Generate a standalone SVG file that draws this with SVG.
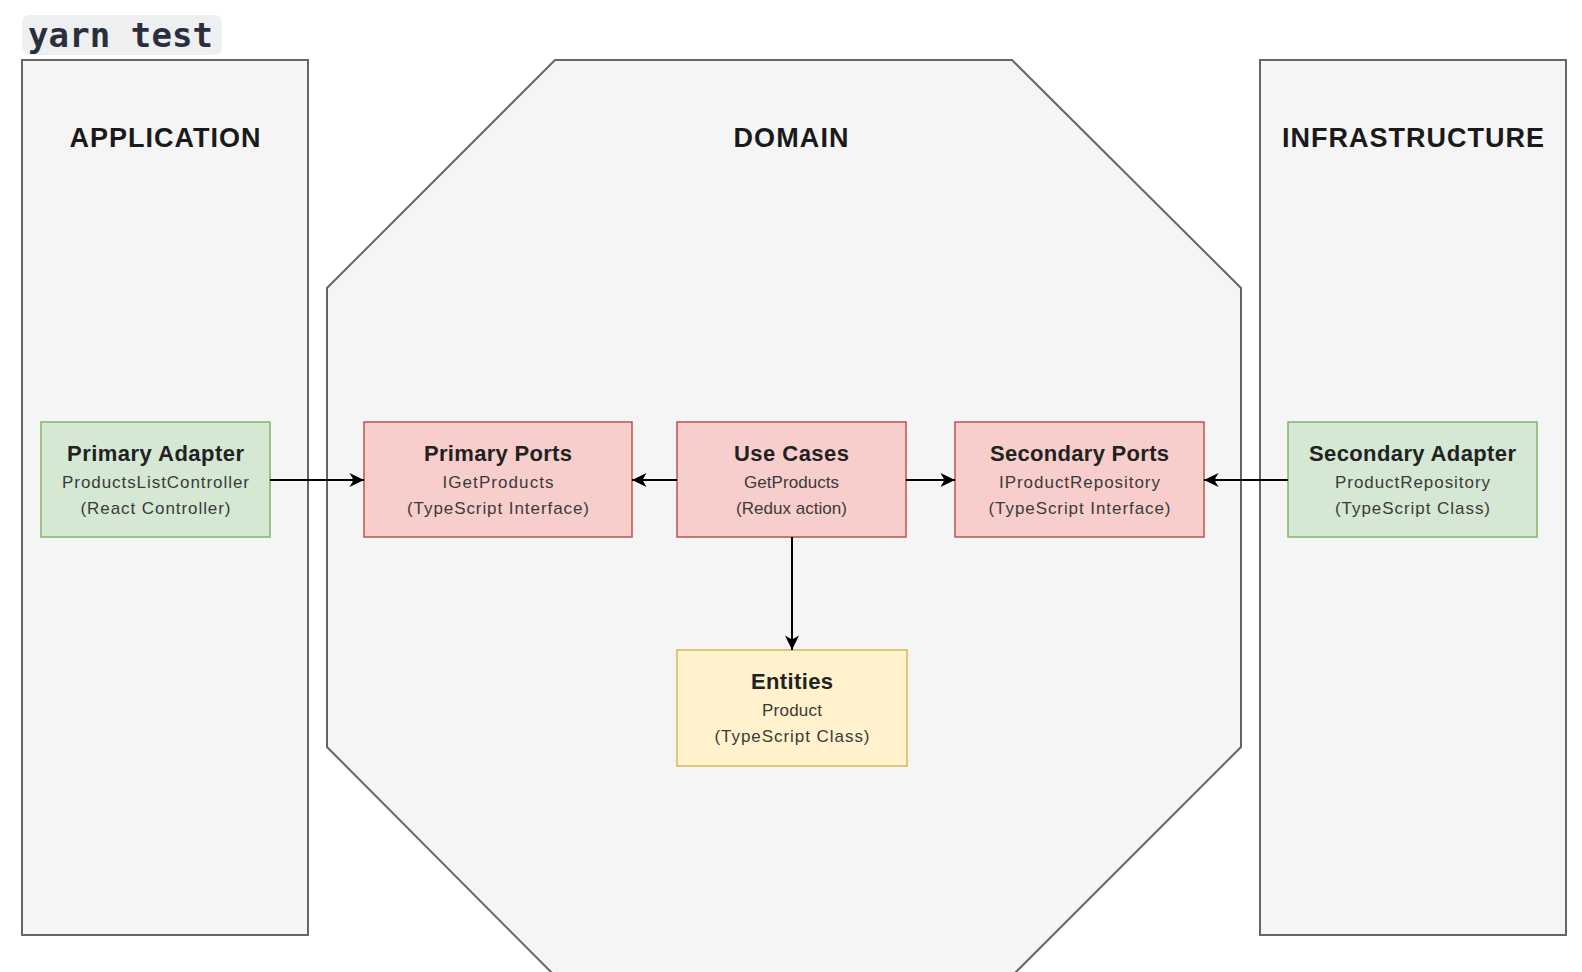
<svg xmlns="http://www.w3.org/2000/svg" width="1582" height="972" viewBox="0 0 1582 972">
  <style>
    .container { fill: #f5f5f5; stroke: #666666; stroke-width: 2; }
    .hdr { font-family: "Liberation Sans", Arial, sans-serif; font-weight: bold; font-size: 27px; fill: #1a1a1a; text-anchor: middle; }
    .ttl { font-family: "Liberation Sans", Arial, sans-serif; font-weight: bold; font-size: 22px; fill: #222222; text-anchor: middle; }
    .sub { font-family: "Liberation Sans", Arial, sans-serif; font-size: 17px; fill: #3a3a3a; text-anchor: middle; }
    .green { fill: #d5e8d4; stroke: #82b366; stroke-width: 1.5; }
    .red { fill: #f8cecc; stroke: #b85450; stroke-width: 1.5; }
    .yellow { fill: #fff2cc; stroke: #d6b656; stroke-width: 1.5; }
    .edge { stroke: #000000; stroke-width: 2; fill: none; marker-end: url(#arrow); }
  </style>
  <defs>
    <marker id="arrow" markerUnits="userSpaceOnUse" markerWidth="16" markerHeight="16" viewBox="0 0 16 16" refX="15" refY="8" orient="auto">
      <path d="M0.5,1 L15,8 L0.5,15 L4.5,8 Z" fill="#000000"/>
    </marker>
  </defs>
  <rect width="1582" height="972" fill="#ffffff"/>

  <g id="yarn-test">
    <rect x="22" y="15" width="200" height="40" rx="8" fill="#eeeff1"/>
    <text x="28" y="47" font-family="DejaVu Sans Mono, monospace" font-weight="bold" font-size="34" fill="#2b2f3d" textLength="185" lengthAdjust="spacing">yarn test</text>
  </g>

  <g id="application">
    <rect class="container" x="22" y="60" width="286" height="875"/>
    <text class="hdr" x="165" y="147" textLength="191" lengthAdjust="spacing">APPLICATION</text>
  </g>

  <g id="domain">
    <polygon class="container" points="555,60 1012,60 1241,288 1241,747 1012,976 555,976 327,747 327,288"/>
    <text class="hdr" x="791" y="147" textLength="115" lengthAdjust="spacing">DOMAIN</text>
  </g>

  <g id="infrastructure">
    <rect class="container" x="1260" y="60" width="306" height="875"/>
    <text class="hdr" x="1413" y="147" textLength="262" lengthAdjust="spacing">INFRASTRUCTURE</text>
  </g>

  <g id="primary-adapter">
    <rect class="green" x="41" y="422" width="229" height="115"/>
    <text class="ttl" x="155.5" y="461" textLength="177" lengthAdjust="spacing">Primary Adapter</text>
    <text class="sub" x="155.5" y="488" textLength="187" lengthAdjust="spacing">ProductsListController</text>
    <text class="sub" x="155.5" y="514" textLength="150" lengthAdjust="spacing">(React Controller)</text>
  </g>

  <g id="primary-ports">
    <rect class="red" x="364" y="422" width="268" height="115"/>
    <text class="ttl" x="498" y="461" textLength="148" lengthAdjust="spacing">Primary Ports</text>
    <text class="sub" x="498" y="488" textLength="111" lengthAdjust="spacing">IGetProducts</text>
    <text class="sub" x="498" y="514" textLength="182" lengthAdjust="spacing">(TypeScript Interface)</text>
  </g>

  <g id="use-cases">
    <rect class="red" x="677" y="422" width="229" height="115"/>
    <text class="ttl" x="791.5" y="461" textLength="115" lengthAdjust="spacing">Use Cases</text>
    <text class="sub" x="791.5" y="488" textLength="95" lengthAdjust="spacing">GetProducts</text>
    <text class="sub" x="791.5" y="514" textLength="111" lengthAdjust="spacing">(Redux action)</text>
  </g>

  <g id="secondary-ports">
    <rect class="red" x="955" y="422" width="249" height="115"/>
    <text class="ttl" x="1079.5" y="461" textLength="179" lengthAdjust="spacing">Secondary Ports</text>
    <text class="sub" x="1079.5" y="488" textLength="161" lengthAdjust="spacing">IProductRepository</text>
    <text class="sub" x="1079.5" y="514" textLength="182" lengthAdjust="spacing">(TypeScript Interface)</text>
  </g>

  <g id="secondary-adapter">
    <rect class="green" x="1288" y="422" width="249" height="115"/>
    <text class="ttl" x="1412.5" y="461" textLength="207" lengthAdjust="spacing">Secondary Adapter</text>
    <text class="sub" x="1412.5" y="488" textLength="155" lengthAdjust="spacing">ProductRepository</text>
    <text class="sub" x="1412.5" y="514" textLength="155" lengthAdjust="spacing">(TypeScript Class)</text>
  </g>

  <g id="entities">
    <rect class="yellow" x="677" y="650" width="230" height="116"/>
    <text class="ttl" x="792" y="689" textLength="82" lengthAdjust="spacing">Entities</text>
    <text class="sub" x="792" y="716" textLength="60" lengthAdjust="spacing">Product</text>
    <text class="sub" x="792" y="742" textLength="155" lengthAdjust="spacing">(TypeScript Class)</text>
  </g>

  <g id="connectors">
    <line class="edge" x1="270" y1="480" x2="364" y2="480"/>
    <line class="edge" x1="677" y1="480" x2="632" y2="480"/>
    <line class="edge" x1="906" y1="480" x2="955" y2="480"/>
    <line class="edge" x1="1288" y1="480" x2="1204" y2="480"/>
    <line class="edge" x1="792" y1="537" x2="792" y2="650"/>
  </g>
</svg>
